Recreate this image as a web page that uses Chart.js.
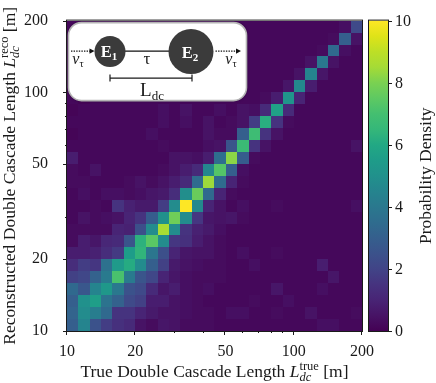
<!DOCTYPE html>
<html>
<head>
<meta charset="utf-8">
<title>Double cascade length</title>
<script src="https://cdn.jsdelivr.net/npm/chart.js@4.4.1/dist/chart.umd.min.js"></script>
<style>
  html, body { margin: 0 ; padding: 0 ; background: #fff ; }
  #box { width: 436px ; height: 383px ; }
</style>
</head>
<body>
<div id="box"><canvas id="myChart" width="436" height="383"></canvas></div>
<script>
'use strict' ;

// bin edges in metres, same binning on both axes
let binEdges = [
  10, 11.22, 12.59, 14.13, 15.85, 17.79, 19.96, 22.40, 25.14, 28.21, 31.65, 35.52, 39.85,
  44.72, 50.18, 56.31, 63.19, 70.90, 79.56, 89.28, 100.2, 112.4, 126.1, 141.5, 158.8, 178.2, 200
] ;

let axisTicks = [10, 20, 30, 40, 50, 60, 70, 80, 90, 100, 200] ;
let axisLabels = [10, 20, 50, 100, 200] ;
let colorTicks = [0, 2, 4, 6, 8, 10] ;
let colorMax = 10 ;

// density[j][i] : j = reconstructed bin (from the bottom), i = true bin (from the left)
let density = [
  [3.0, 4.5, 2.5, 1.8, 1.4, 1.2, 0.5, 0.3, 0.6, 0.5, 0.3, 0.3, 0.3, 0.2, 0.2, 0.2, 0.2, 0.2, 0.2, 0.2, 0.2, 0.2, 0.4, 0.4, 0.2, 0.2],
  [3.2, 4.8, 4.2, 3.4, 1.5, 1.5, 1.0, 0.7, 0.5, 0.5, 0.4, 0.3, 0.3, 0.2, 0.4, 0.4, 0.2, 0.2, 0.3, 0.2, 0.2, 0.5, 0.2, 0.2, 0.2, 0.3],
  [3.0, 5.0, 5.6, 3.8, 3.1, 2.2, 1.9, 0.8, 0.8, 0.5, 0.4, 0.3, 0.2, 0.2, 0.2, 0.2, 0.3, 0.2, 0.2, 0.4, 0.2, 0.2, 0.2, 0.2, 0.2, 0.2],
  [3.4, 2.7, 4.5, 5.3, 4.0, 2.5, 2.2, 1.2, 0.6, 0.8, 0.4, 0.3, 0.4, 0.2, 0.2, 0.2, 0.2, 0.2, 0.6, 0.2, 0.2, 0.2, 0.4, 0.2, 0.2, 0.2],
  [1.9, 2.1, 3.1, 4.1, 7.1, 4.1, 2.6, 2.1, 1.0, 0.6, 0.4, 0.3, 0.3, 0.3, 0.2, 0.2, 0.2, 0.2, 0.2, 0.2, 0.2, 0.2, 0.2, 0.6, 0.2, 0.2],
  [1.3, 1.8, 1.6, 3.7, 5.4, 6.1, 4.8, 3.0, 1.9, 0.7, 0.5, 0.4, 0.3, 0.3, 0.2, 0.2, 0.4, 0.2, 0.2, 0.2, 0.2, 0.2, 0.8, 0.2, 0.2, 0.2],
  [0.8, 0.8, 0.9, 1.3, 1.7, 5.5, 6.4, 3.9, 2.4, 1.0, 0.6, 0.5, 0.5, 0.3, 0.2, 0.4, 0.2, 0.2, 0.3, 0.2, 0.2, 0.2, 0.2, 0.2, 0.2, 0.2],
  [0.3, 0.8, 0.6, 1.1, 1.2, 2.6, 6.3, 7.4, 4.8, 1.6, 1.4, 0.8, 0.5, 0.3, 0.2, 0.2, 0.2, 0.2, 0.2, 0.2, 0.2, 0.2, 0.2, 0.2, 0.2, 0.2],
  [0.3, 0.3, 0.3, 0.3, 1.0, 0.9, 2.4, 4.8, 8.6, 4.8, 1.5, 0.9, 0.7, 0.4, 0.2, 0.2, 0.2, 0.2, 0.2, 0.2, 0.2, 0.2, 0.2, 0.2, 0.2, 0.2],
  [0.2, 0.5, 0.3, 0.4, 0.5, 1.0, 1.5, 2.9, 5.0, 7.8, 4.8, 1.6, 0.6, 0.5, 0.6, 0.3, 0.2, 0.2, 0.2, 0.2, 0.2, 0.2, 0.2, 0.2, 0.2, 0.2],
  [0.2, 0.2, 0.3, 0.2, 1.5, 0.9, 0.7, 0.7, 1.8, 4.8, 10.0, 4.7, 1.0, 0.5, 0.2, 0.4, 0.2, 0.2, 0.3, 0.2, 0.2, 0.2, 0.2, 0.2, 0.2, 0.4],
  [0.2, 0.4, 0.2, 0.4, 0.4, 0.3, 0.4, 0.6, 0.7, 1.3, 4.9, 7.7, 3.4, 1.0, 0.3, 0.2, 0.2, 0.2, 0.2, 0.2, 0.2, 0.2, 0.2, 0.2, 0.2, 0.2],
  [0.3, 0.3, 0.2, 0.2, 0.2, 0.3, 0.5, 0.3, 0.5, 0.8, 1.2, 3.5, 8.4, 3.5, 1.0, 0.3, 0.2, 0.2, 0.2, 0.2, 0.2, 0.2, 0.2, 0.2, 0.2, 0.2],
  [0.3, 0.2, 0.5, 0.2, 0.2, 0.2, 0.2, 0.2, 0.3, 0.5, 0.8, 1.2, 4.6, 7.3, 3.0, 0.4, 0.2, 0.2, 0.2, 0.2, 0.2, 0.2, 0.2, 0.2, 0.2, 0.2],
  [0.8, 0.2, 0.2, 0.2, 0.2, 0.2, 0.2, 0.2, 0.2, 0.5, 0.5, 0.4, 0.8, 3.6, 8.2, 2.9, 0.3, 0.2, 0.2, 0.2, 0.2, 0.2, 0.2, 0.2, 0.2, 0.2],
  [0.2, 0.2, 0.2, 0.2, 0.2, 0.2, 0.2, 0.2, 0.3, 0.2, 0.2, 0.2, 0.4, 0.5, 2.6, 6.7, 1.5, 0.5, 0.2, 0.2, 0.2, 0.2, 0.2, 0.2, 0.2, 0.5],
  [0.1, 0.2, 0.2, 0.2, 0.2, 0.2, 0.2, 0.4, 0.2, 0.2, 0.2, 0.2, 0.5, 0.3, 0.3, 3.0, 6.8, 1.5, 0.5, 0.2, 0.2, 0.2, 0.2, 0.2, 0.2, 0.2],
  [0.2, 0.2, 0.2, 0.2, 0.2, 0.2, 0.2, 0.2, 0.4, 0.2, 0.4, 0.2, 0.5, 0.2, 0.3, 0.5, 1.8, 6.2, 1.5, 0.3, 0.2, 0.2, 0.2, 0.2, 0.2, 0.2],
  [0.1, 0.2, 0.2, 0.2, 0.2, 0.2, 0.2, 0.2, 0.4, 0.2, 0.5, 0.2, 0.2, 0.4, 0.2, 0.5, 0.4, 1.2, 5.7, 1.2, 0.2, 0.2, 0.2, 0.2, 0.2, 0.2],
  [0.2, 0.1, 0.2, 0.2, 0.2, 0.2, 0.2, 0.2, 0.2, 0.2, 0.2, 0.2, 0.2, 0.2, 0.2, 0.2, 0.2, 0.3, 0.8, 5.2, 1.0, 0.2, 0.2, 0.2, 0.2, 0.2],
  [0.2, 0.2, 0.2, 0.2, 0.2, 0.2, 0.2, 0.2, 0.2, 0.2, 0.2, 0.2, 0.2, 0.2, 0.2, 0.2, 0.2, 0.2, 0.2, 0.6, 4.7, 0.8, 0.2, 0.2, 0.2, 0.2],
  [0.2, 0.2, 0.2, 0.2, 0.2, 0.2, 0.2, 0.2, 0.2, 0.2, 0.2, 0.2, 0.2, 0.2, 0.2, 0.2, 0.2, 0.2, 0.2, 0.2, 0.5, 4.5, 0.6, 0.2, 0.2, 0.2],
  [0.2, 0.2, 0.2, 0.2, 0.2, 0.2, 0.2, 0.2, 0.2, 0.2, 0.2, 0.2, 0.2, 0.2, 0.2, 0.2, 0.2, 0.2, 0.2, 0.2, 0.2, 0.5, 4.0, 0.5, 0.2, 0.2],
  [0.2, 0.2, 0.2, 0.2, 0.2, 0.2, 0.2, 0.2, 0.2, 0.2, 0.2, 0.2, 0.2, 0.2, 0.2, 0.2, 0.2, 0.2, 0.2, 0.2, 0.2, 0.2, 0.3, 3.4, 0.4, 0.2],
  [0.2, 0.2, 0.2, 0.2, 0.2, 0.2, 0.2, 0.2, 0.2, 0.2, 0.2, 0.2, 0.2, 0.2, 0.2, 0.2, 0.2, 0.2, 0.2, 0.2, 0.2, 0.2, 0.2, 0.3, 3.0, 0.5],
  [0.2, 0.2, 0.2, 0.2, 0.2, 0.2, 0.2, 0.2, 0.2, 0.2, 0.2, 0.2, 0.2, 0.2, 0.2, 0.2, 0.2, 0.2, 0.2, 0.2, 0.2, 0.2, 0.2, 0.2, 0.4, 2.2]
] ;

let viridisStops = [
  '#440154', '#471365', '#482475', '#46337f', '#414487', '#3b528b', '#355f8d',
  '#2f6c8e', '#2a788e', '#25848e', '#21918c', '#1e9c89', '#22a884', '#35b779',
  '#44bf70', '#5ec962', '#7ad151', '#a5db36', '#bddf26', '#dfe318', '#fde725'
] ;

const serif = '"Liberation Serif", "Times New Roman", serif' ;
const ink = '#1a1a1a' ;

function hexRgb (h)
{
  return [parseInt(h.slice(1, 3), 16), parseInt(h.slice(3, 5), 16), parseInt(h.slice(5, 7), 16)] ;
}

function viridis (v)
{
  let t = Math.max(0, Math.min(1, v / colorMax)) * (viridisStops.length - 1) ;
  let k = Math.min(Math.floor(t), viridisStops.length - 2) ;
  let f = t - k ;
  let a = hexRgb(viridisStops[k]) ;
  let b = hexRgb(viridisStops[k + 1]) ;
  let c = a.map(function (x, n) { return Math.round(x + (b[n] - x) * f) ; }) ;
  return 'rgb(' + c.join(',') + ')' ;
}

// text made of pieces : {t, font, dy, stack} ; stack puts the next piece on the same x
function richWidth (ctx, parts)
{
  let w = 0 ;
  for (let i = 0 ; i < parts.length ; i++)
  {
    ctx.font = parts[i].font ;
    let pw = ctx.measureText(parts[i].t).width ;
    if (parts[i].stack)
    {
      ctx.font = parts[i + 1].font ;
      pw = Math.max(pw, ctx.measureText(parts[i + 1].t).width) ;
      i++ ;
    }
    w += pw ;
  }
  return w ;
}

function richText (ctx, parts, cx, cy, angle, color)
{
  ctx.save() ;
  ctx.translate(cx, cy) ;
  if (angle) ctx.rotate(angle) ;
  ctx.fillStyle = color ;
  ctx.textAlign = 'left' ;
  ctx.textBaseline = 'alphabetic' ;
  let x = -richWidth(ctx, parts) / 2 ;
  for (let i = 0 ; i < parts.length ; i++)
  {
    ctx.font = parts[i].font ;
    ctx.fillText(parts[i].t, x, parts[i].dy || 0) ;
    let pw = ctx.measureText(parts[i].t).width ;
    if (parts[i].stack)
    {
      ctx.font = parts[i + 1].font ;
      ctx.fillText(parts[i + 1].t, x, parts[i + 1].dy || 0) ;
      pw = Math.max(pw, ctx.measureText(parts[i + 1].t).width) ;
      i++ ;
    }
    x += pw ;
  }
  ctx.restore() ;
}

function axisTitle (text, sup)
{
  let big = '17.5px ' + serif ;
  let small = '12.5px ' + serif ;
  return [
    {t: text, font: big},
    {t: 'L', font: 'italic ' + big},
    {t: sup, font: small, dy: -7, stack: true},
    {t: 'dc', font: 'italic ' + small, dy: 4},
    {t: ' [m]', font: big}
  ] ;
}

let cells = [] ;
for (let j = 0 ; j < density.length ; j++)
{
  for (let i = 0 ; i < density[j].length ; i++)
  {
    cells.push({x: Math.sqrt(binEdges[i] * binEdges[i + 1]), y: Math.sqrt(binEdges[j] * binEdges[j + 1]), i: i, j: j, v: density[j][i]}) ;
  }
}

const heatmap = {
  id: 'heatmap',
  beforeDatasetsDraw (chart)
  {
    const ctx = chart.ctx ;
    const area = chart.chartArea ;
    const xs = chart.scales.x ;
    const ys = chart.scales.y ;
    ctx.save() ;
    ctx.beginPath() ;
    ctx.rect(area.left, area.top, area.right - area.left, area.bottom - area.top) ;
    ctx.clip() ;
    chart.data.datasets[0].data.forEach(function (c)
    {
      let x0 = Math.round(xs.getPixelForValue(binEdges[c.i])) ;
      let x1 = Math.round(xs.getPixelForValue(binEdges[c.i + 1])) ;
      let y0 = Math.round(ys.getPixelForValue(binEdges[c.j + 1])) ;
      let y1 = Math.round(ys.getPixelForValue(binEdges[c.j])) ;
      ctx.fillStyle = viridis(c.v) ;
      ctx.fillRect(x0, y0, x1 - x0, y1 - y0) ;
    }) ;
    ctx.restore() ;
  },
  afterDraw (chart)
  {
    const ctx = chart.ctx ;
    const area = chart.chartArea ;
    const xs = chart.scales.x ;
    const ys = chart.scales.y ;

    drawInset(ctx, area) ;

    // frame and tick marks
    ctx.save() ;
    ctx.strokeStyle = ink ;
    ctx.lineWidth = 1 ;
    ctx.strokeRect(area.left - 0.5, area.top - 0.5, area.right - area.left + 1, area.bottom - area.top + 1) ;
    ctx.beginPath() ;
    axisTicks.forEach(function (v)
    {
      let len = axisLabels.includes(v) ? 4 : 2 ;
      let px = Math.round(xs.getPixelForValue(v)) - 0.5 ;
      ctx.moveTo(px, area.bottom) ;
      ctx.lineTo(px, area.bottom + len) ;
      let py = Math.round(ys.getPixelForValue(v)) + 0.5 ;
      ctx.moveTo(area.left - len, py) ;
      ctx.lineTo(area.left, py) ;
    }) ;
    ctx.stroke() ;
    ctx.restore() ;

    richText(ctx, axisTitle('True Double Cascade Length ', 'true'), (area.left + area.right) / 2, 376.5, 0, ink) ;
    richText(ctx, axisTitle('Reconstructed Double Cascade Length ', 'reco'), 15, (area.top + area.bottom) / 2, -Math.PI / 2, ink) ;

    drawColorbar(ctx, chart) ;
  }
} ;

function drawColorbar (ctx, chart)
{
  const area = chart.chartArea ;
  const cb = chart.scales.cb ;
  let x0 = area.right + 7 ;
  let w = 19 ;
  let top = cb.getPixelForValue(colorMax) ;
  let bot = cb.getPixelForValue(0) ;
  ctx.save() ;
  let grad = ctx.createLinearGradient(0, bot, 0, top) ;
  viridisStops.forEach(function (c, n) { grad.addColorStop(n / (viridisStops.length - 1), c) ; }) ;
  ctx.fillStyle = grad ;
  ctx.fillRect(x0, top, w, bot - top) ;
  ctx.strokeStyle = ink ;
  ctx.lineWidth = 1 ;
  ctx.strokeRect(x0 - 0.5, top - 0.5, w + 1, bot - top + 1) ;
  ctx.beginPath() ;
  ctx.fillStyle = ink ;
  ctx.font = '16px ' + serif ;
  ctx.textAlign = 'left' ;
  ctx.textBaseline = 'middle' ;
  colorTicks.forEach(function (v)
  {
    let py = Math.round(cb.getPixelForValue(v)) + 0.5 ;
    ctx.moveTo(x0 + w, py) ;
    ctx.lineTo(x0 + w + 4, py) ;
    ctx.fillText(String(v), x0 + w + 7, py) ;
  }) ;
  ctx.stroke() ;
  ctx.restore() ;
  richText(ctx, [{t: 'Probability Density', font: '17.5px ' + serif}], 431, (top + bot) / 2, -Math.PI / 2, ink) ;
}

function roundBox (ctx, x, y, w, h, r)
{
  ctx.beginPath() ;
  ctx.moveTo(x + r, y) ;
  ctx.arcTo(x + w, y, x + w, y + h, r) ;
  ctx.arcTo(x + w, y + h, x, y + h, r) ;
  ctx.arcTo(x, y + h, x, y, r) ;
  ctx.arcTo(x, y, x + w, y, r) ;
  ctx.closePath() ;
}

function dottedArrow (ctx, xa, xb, y)
{
  ctx.save() ;
  ctx.setLineDash([1.4, 1.2]) ;
  ctx.lineWidth = 1.2 ;
  ctx.beginPath() ;
  ctx.moveTo(xa, y) ;
  ctx.lineTo(xb - 4, y) ;
  ctx.stroke() ;
  ctx.setLineDash([]) ;
  ctx.beginPath() ;
  ctx.moveTo(xb, y) ;
  ctx.lineTo(xb - 5, y - 2.6) ;
  ctx.lineTo(xb - 5, y + 2.6) ;
  ctx.closePath() ;
  ctx.fill() ;
  ctx.restore() ;
}

function drawInset (ctx, area)
{
  let L = area.left ;
  let T = area.top ;
  ctx.save() ;
  roundBox(ctx, L + 1.5, T + 2, 178, 78, 13) ;
  ctx.shadowColor = 'rgba(0,0,0,0.55)' ;
  ctx.shadowBlur = 3 ;
  ctx.fillStyle = '#ffffff' ;
  ctx.fill() ;
  ctx.shadowBlur = 0 ;
  ctx.shadowColor = 'transparent' ;
  ctx.strokeStyle = '#b4b4b4' ;
  ctx.lineWidth = 1.6 ;
  ctx.stroke() ;

  let cy = T + 30.5 ;
  let e1 = {x: L + 43, r: 15.5} ;
  let e2 = {x: L + 124, r: 22.5} ;
  ctx.strokeStyle = '#111' ;
  ctx.fillStyle = '#111' ;
  ctx.lineWidth = 1.1 ;
  ctx.beginPath() ;
  ctx.moveTo(e1.x, cy) ;
  ctx.lineTo(e2.x, cy) ;
  ctx.stroke() ;
  dottedArrow(ctx, L + 4, e1.x - e1.r, cy) ;
  dottedArrow(ctx, e2.x + e2.r + 2, L + 174, cy) ;

  ctx.fillStyle = '#3b3b3b' ;
  [e1, e2].forEach(function (e)
  {
    ctx.beginPath() ;
    ctx.arc(e.x, cy + 0.5, e.r, 0, Math.PI * 2) ;
    ctx.fill() ;
  }) ;
  ctx.restore() ;

  let eFont = 'bold 16.5px ' + serif ;
  let sFont = 'bold 11px ' + serif ;
  richText(ctx, [{t: 'E', font: eFont}, {t: '1', font: sFont, dy: 3}], e1.x - 1, cy + 6, 0, '#ffffff') ;
  richText(ctx, [{t: 'E', font: eFont}, {t: '2', font: sFont, dy: 3}], e2.x - 1, cy + 6.5, 0, '#ffffff') ;

  let nu = [{t: 'ν', font: 'italic 16px ' + serif}, {t: 'τ', font: '10.5px ' + serif, dy: 3}] ;
  richText(ctx, nu, L + 11, T + 43.5, 0, ink) ;
  richText(ctx, nu, L + 164, T + 43.5, 0, ink) ;
  richText(ctx, [{t: 'τ', font: '17px ' + serif}], L + 80, T + 43.5, 0, ink) ;

  // length bracket
  ctx.save() ;
  ctx.strokeStyle = ink ;
  ctx.lineWidth = 1.2 ;
  let by = T + 57.5 ;
  ctx.beginPath() ;
  ctx.moveTo(e1.x, by) ;
  ctx.lineTo(e2.x + 1, by) ;
  ctx.moveTo(e1.x, by - 3.5) ;
  ctx.lineTo(e1.x, by + 3.5) ;
  ctx.moveTo(e2.x + 1, by - 3.5) ;
  ctx.lineTo(e2.x + 1, by + 3.5) ;
  ctx.stroke() ;
  ctx.restore() ;
  richText(ctx, [{t: 'L', font: '19px ' + serif}, {t: 'dc', font: '13px ' + serif, dy: 4}], L + 85, T + 75, 0, ink) ;
}

function logTicks (scale)
{
  scale.ticks = axisTicks.map(function (v) { return {value: v, major: axisLabels.includes(v)} ; }) ;
}

function tickLabel (value)
{
  return axisLabels.includes(value) ? String(value) : '' ;
}

Chart.defaults.font.family = serif ;
Chart.defaults.color = ink ;

let ctx = document.getElementById('myChart').getContext('2d') ;
let myChart = new Chart(ctx, {
  type: 'scatter',
  data: {
    datasets: [{
      label: 'density',
      data: cells,
      pointRadius: 0,
      pointHoverRadius: 0
    }]
  },
  plugins: [heatmap],
  options: {
    responsive: false,
    animation: false,
    devicePixelRatio: 1,
    layout: {
      padding: {top: 8, right: 74, left: 0, bottom: 0}
    },
    plugins: {
      legend: {display: false},
      tooltip: {enabled: false}
    },
    scales: {
      x: {
        type: 'logarithmic',
        min: 10,
        max: 200,
        afterBuildTicks: logTicks,
        afterFit: function (scale) { scale.height = 52 ; },
        grid: {display: false},
        border: {display: false},
        ticks: {autoSkip: false, maxRotation: 0, padding: 3, font: {size: 16}, color: ink, callback: tickLabel}
      },
      y: {
        type: 'logarithmic',
        min: 10,
        max: 200,
        afterBuildTicks: logTicks,
        afterFit: function (scale) { scale.width = 67 ; },
        grid: {display: false},
        border: {display: false},
        ticks: {autoSkip: false, padding: 11, font: {size: 16}, color: ink, callback: tickLabel}
      },
      cb: {
        type: 'linear',
        position: 'right',
        display: false,
        min: 0,
        max: colorMax
      }
    }
  }
}) ;
</script>
</body>
</html>
